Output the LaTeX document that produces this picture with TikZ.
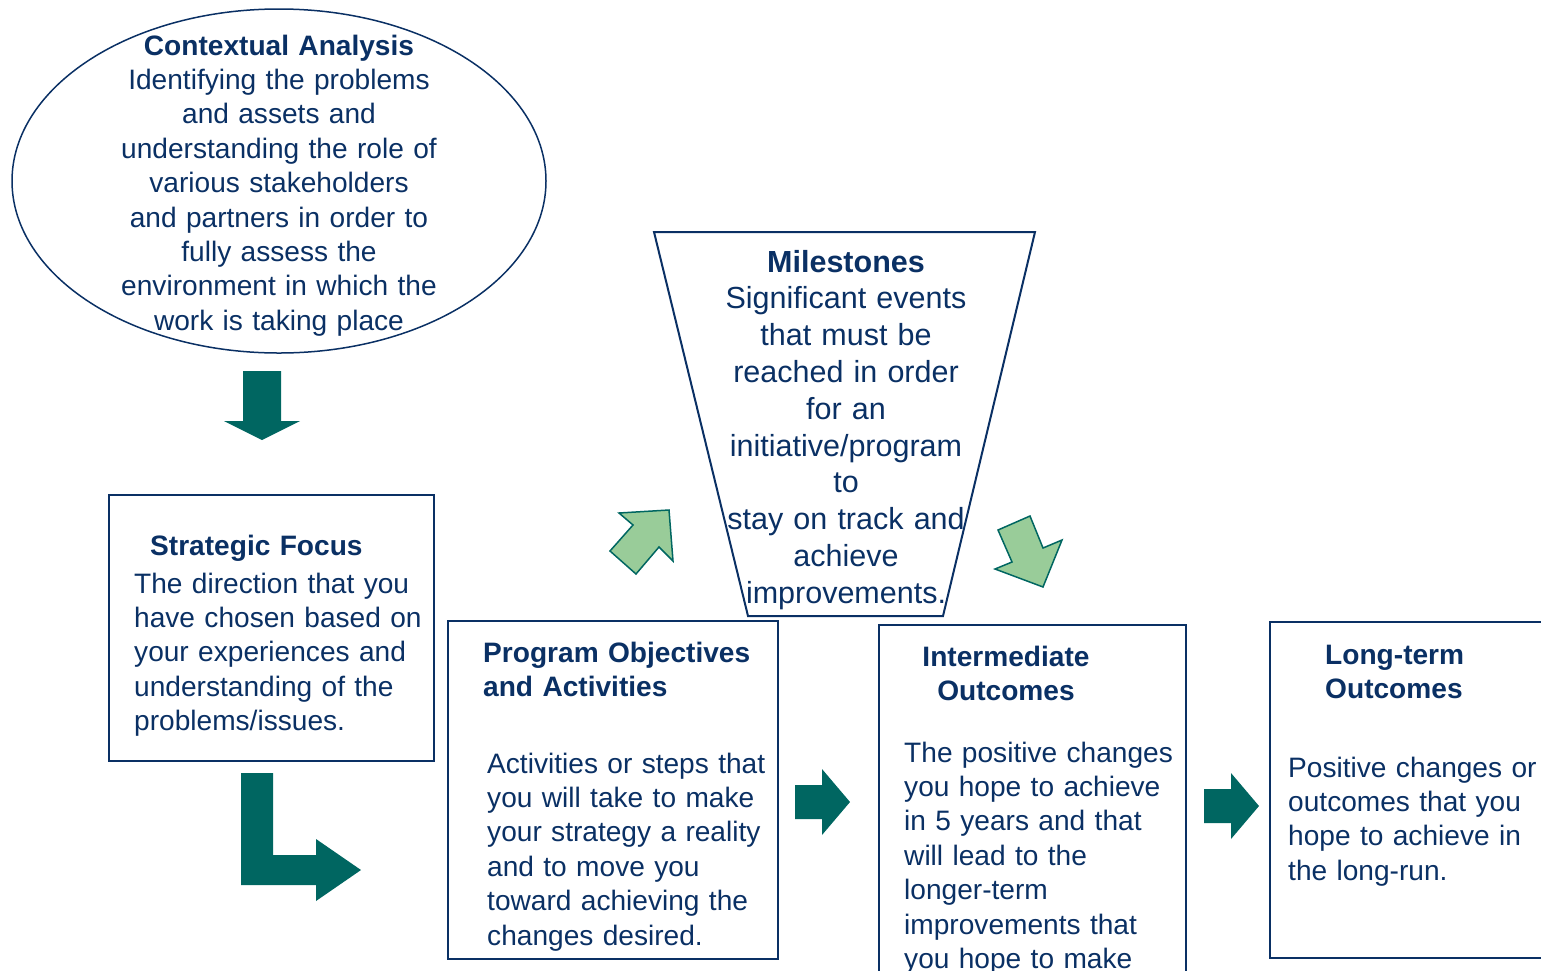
\documentclass[tikz,border=0pt]{standalone}
\usepackage{fontspec}
\setmainfont{Liberation Sans}
\definecolor{navy}{RGB}{10,48,100}
\definecolor{deepteal}{RGB}{0,102,97}
\definecolor{leaf}{RGB}{153,204,153}
\tikzset{
  frame/.style={draw=navy,line width=2pt},
  txt/.style={text=navy,inner sep=0pt,text width=440pt,font=\fontsize{28.1}{34.4}\selectfont},
  bigtxt/.style={txt,font=\fontsize{30.5}{36.8}\selectfont},
  blockarrow/.style={fill=deepteal},
  leafarrow/.style={fill=leaf,draw=deepteal,line width=1.5pt,line join=miter}
}
\begin{document}
\begin{tikzpicture}[x=1pt,y=-1pt]
\useasboundingbox (0,0) rectangle (1541,970);
% shapes
\draw [navy,line width=1.5pt] (279,181) ellipse [x radius=267,y radius=172];
\draw [frame] (109,495) rectangle (434,761);
\draw [frame] (448,621) rectangle (778,959);
\draw [frame] (879,625) rectangle (1186,980);
\draw [frame] (1270,622) rectangle (1550,958);
\draw [frame] (654,232) -- (1035,232) -- (943,616) -- (748,616) -- cycle;
% block arrows
\fill [blockarrow] (243,371) -- (281,371) -- (281,421) -- (300,421) -- (262,440) -- (224,421) -- (243,421) -- cycle;
\fill [blockarrow] (241,773) -- (273,773) -- (273,855) -- (316,855) -- (316,839) -- (361,870) -- (316,901) -- (316,885) -- (241,885) -- cycle;
\foreach \x/\y in {795/785,1204/789}
  \fill [blockarrow] (\x,\y) -- ++(27,0) -- ++(0,-16) -- ++(28,33) -- ++(-28,33) -- ++(0,-16) -- ++(-27,0) -- cycle;
\draw [leafarrow] (619,513) -- (669,510) -- (673,561) -- (659,547) -- (636,574) -- (610,551) -- (633,525) -- cycle;
\draw [leafarrow] (998,530) -- (1030,516) -- (1043,548) -- (1062,540) -- (1043,587) -- (995,569) -- (1012,562) -- cycle;
% texts
\node [txt,align=center,anchor=base] (ctxtext) at (279,55) {\textbf{Contextual Analysis}\\Identifying the problems\\and assets and\\understanding the role of\\various stakeholders\\and partners in order to\\fully assess the\\environment in which the\\work is taking place};
\node [txt,anchor=base west] (focustitle) at (150,555) {\textbf{Strategic Focus}};
\node [txt,anchor=base west] (focustext) at (134,593) {The direction that you\\have chosen based on\\your experiences and\\understanding of the\\problems/issues.};
\node [bigtxt,align=center,anchor=base] (miletext) at (846,272) {\textbf{Milestones}\\Significant events\\that must be\\reached in order\\for an\\initiative/program\\to\\stay on track and\\achieve\\improvements.};
\node [txt,anchor=base west] (progtitle) at (483,662) {\textbf{Program Objectives}\\\textbf{and Activities}};
\node [txt,anchor=base west] (progtext) at (487,773) {Activities or steps that\\you will take to make\\your strategy a reality\\and to move you\\toward achieving the\\changes desired.};
\node [txt,align=center,anchor=base] (midtitle) at (1006,666) {\textbf{Intermediate}\\\textbf{Outcomes}};
\node [txt,anchor=base west] (midtext) at (904,762) {The positive changes\\you hope to achieve\\in 5 years and that\\will lead to the\\longer-term\\improvements that\\you hope to make};
\node [txt,anchor=base west] (longtitle) at (1325,664) {\textbf{Long-term}\\\textbf{Outcomes}};
\node [txt,anchor=base west] (longtext) at (1288,777) {Positive changes or\\outcomes that you\\hope to achieve in\\the long-run.};
\end{tikzpicture}
\end{document}
